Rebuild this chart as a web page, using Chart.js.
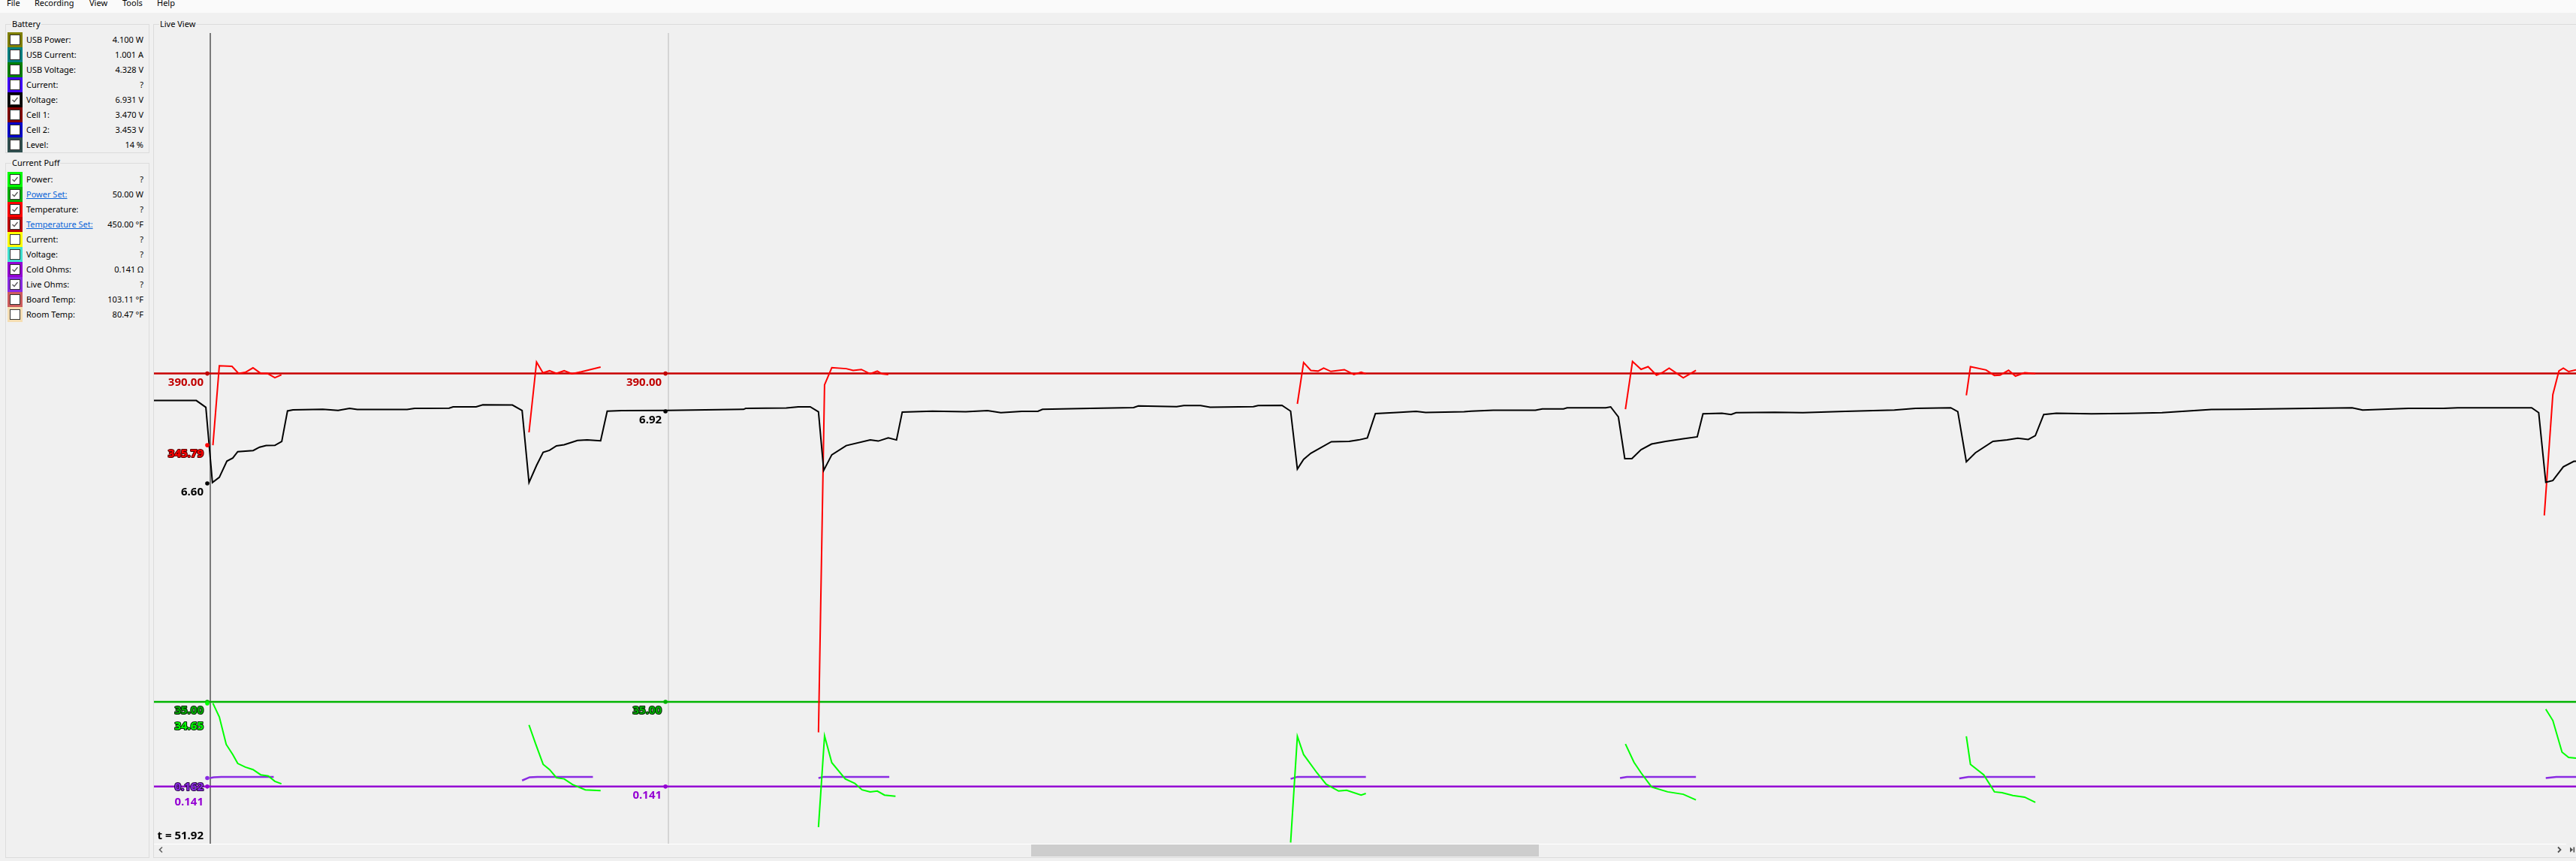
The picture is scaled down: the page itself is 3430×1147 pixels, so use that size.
<!DOCTYPE html>
<html>
<head>
<meta charset="utf-8">
<script src="https://cdn.jsdelivr.net/npm/chart.js"></script>
<style>
html, body { margin: 0; padding: 0; }
body { width: 3430px; height: 1147px; overflow: hidden; background: #f0f0f0; position: relative;
       font-family: "Noto Sans", "Open Sans", sans-serif; font-size: 11px; color: #000; }
#menu { position: absolute; left: 0; top: 0; width: 3430px; height: 17px; background: #fafafa; }
#menu span { position: absolute; top: -5px; line-height: 17px; font-size: 11px; }
.box { position: absolute; border: 1px solid #dcdcdc; box-sizing: border-box; }
.cap { position: absolute; background: #f0f0f0; padding: 0 1px; line-height: 14px; font-size: 11px; }
.row { position: absolute; left: 10px; width: 181px; height: 20px; }
.sw { position: absolute; left: 0; top: 0; width: 20px; height: 20px; }
.cb { position: absolute; left: 3px; top: 3px; width: 12px; height: 12px; border: 1px solid #333; background: #fff; }
.cb svg { position: absolute; left: 0; top: 0; }
.lab { position: absolute; left: 25px; top: 0; line-height: 20px; white-space: nowrap; }
.lab.link { color: #0a64d8; text-decoration: underline; }
.val { position: absolute; right: 0; top: 0; line-height: 20px; white-space: nowrap; }
#plot { position: absolute; left: 205px; top: 44px; width: 3225px; height: 1080px; }
#sbLine { position: absolute; left: 205px; top: 1124px; width: 3212px; height: 1px; background: #fff; }
#thumb { position: absolute; left: 1373px; top: 1125px; width: 676px; height: 16px; background: #cdcdcd; }
.arrow { position: absolute; }
</style>
</head>
<body>
<div id="menu">
  <span style="left:9px">File</span>
  <span style="left:46px">Recording</span>
  <span style="left:119px">View</span>
  <span style="left:163px">Tools</span>
  <span style="left:209px">Help</span>
</div>

<div class="box" style="left:7px;top:32px;width:192px;height:172px"></div>
<div class="cap" style="left:15px;top:25px">Battery</div>
<div class="box" style="left:7px;top:217px;width:192px;height:926px"></div>
<div class="cap" style="left:15px;top:210px">Current Puff</div>
<div class="box" style="left:204px;top:32px;width:3300px;height:1111px"></div>
<div class="cap" style="left:212px;top:25px">Live View</div>
<div id="rows"></div>

<div id="plot"><canvas id="liveChart"></canvas></div>

<div id="sbLine"></div>
<div id="thumb"></div>
<svg class="arrow" style="left:210px;top:1127px" width="10" height="10"><polyline points="6,1.5 2.5,5 6,8.5" fill="none" stroke="#606060" stroke-width="1.6"/></svg>
<svg class="arrow" style="left:3403px;top:1127px" width="10" height="10"><polyline points="3,1.5 6.5,5 3,8.5" fill="none" stroke="#505050" stroke-width="1.8"/></svg>
<svg class="arrow" style="left:3421px;top:1127px" width="9" height="10"><polygon points="1,1.5 5,5 1,8.5" fill="#505050"/><rect x="5.5" y="1.5" width="1.6" height="7" fill="#505050"/></svg>

<script>
// ---- side panel ----
const batteryNames = ["USB Power:", "USB Current:", "USB Voltage:", "Current:", "Voltage:", "Cell 1:", "Cell 2:", "Level:"];
const batteryValues = ["4.100 W", "1.001 A", "4.328 V", "?", "6.931 V", "3.470 V", "3.453 V", "14 %"];
const batteryColors = ["#808000", "#008080", "#008000", "#4000ff", "#000000", "#800000", "#0000c8", "#2f4f4f"];
const batteryChecked = [0, 0, 0, 0, 1, 0, 0, 0];

const puffNames = ["Power:", "Power Set:", "Temperature:", "Temperature Set:", "Current:", "Voltage:", "Cold Ohms:", "Live Ohms:", "Board Temp:", "Room Temp:"];
const puffValues = ["?", "50.00 W", "?", "450.00 °F", "?", "?", "0.141 Ω", "?", "103.11 °F", "80.47 °F"];
const puffColors = ["#00ff00", "#00b000", "#ff0000", "#c00000", "#ffff00", "#40e0d0", "#9400d3", "#8a2be2", "#cd5c5c", "#f5deb3"];
const puffChecked = [1, 1, 1, 1, 0, 0, 1, 1, 0, 0];
const puffLinks = [0, 1, 0, 1, 0, 0, 0, 0, 0, 0];

// ---- chart data (time in s) ----
const voltT = [
  48.49, 51.07, 51.65, 52.05, 52.47, 52.93, 53.29, 53.59, 54.53, 54.92,
  55.32, 55.85, 56.27, 56.62, 56.95, 58.77, 59.70, 60.40, 60.87, 63.90,
  64.36, 66.46, 66.70, 68.10, 68.51, 70.31, 70.90, 71.32, 71.78, 72.18,
  72.57, 72.99, 73.46, 74.27, 74.86, 75.68, 76.08, 76.96, 79.71, 84.38,
  84.51, 86.98, 87.71, 88.44, 88.94, 89.26, 89.75, 90.63, 92.09, 92.58,
  93.19, 93.69, 94.04, 95.87, 97.91, 99.23, 100.04, 101.32, 102.29, 102.58,
  105.49, 108.12, 108.41, 110.74, 111.18, 112.20, 112.78, 115.41, 115.70, 117.15,
  117.68, 118.09, 118.47, 118.91, 120.16, 121.24, 121.82, 122.35, 122.84, 124.15,
  125.32, 125.90, 128.24, 128.67, 130.01, 132.58, 133.00, 134.29, 134.51, 136.86,
  137.16, 137.63, 138.02, 138.45, 139.01, 139.65, 140.51, 141.58, 142.43, 142.78,
  143.93, 144.49, 144.79, 147.15, 148.86, 151.44, 154.43, 155.72, 157.86, 158.29,
  158.81, 159.36, 160.43, 161.29, 161.94, 162.58, 163.01, 163.52, 164.29, 166.43,
  168.58, 170.72, 173.72, 175.44, 182.29, 182.93, 185.72, 187.86, 188.72, 193.22,
  193.65, 194.08, 194.51, 195.15, 195.79, 195.92
];
const voltV = [
  6.968, 6.968, 6.938, 6.604, 6.627, 6.699, 6.713, 6.741, 6.746, 6.761,
  6.768, 6.769, 6.786, 6.922, 6.927, 6.929, 6.924, 6.933, 6.928, 6.928,
  6.933, 6.934, 6.940, 6.940, 6.949, 6.948, 6.924, 6.604, 6.680, 6.738,
  6.747, 6.767, 6.772, 6.791, 6.793, 6.789, 6.921, 6.923, 6.924, 6.929,
  6.933, 6.935, 6.940, 6.940, 6.918, 6.658, 6.727, 6.768, 6.793, 6.788,
  6.802, 6.793, 6.917, 6.921, 6.918, 6.923, 6.914, 6.920, 6.920, 6.929,
  6.933, 6.937, 6.944, 6.941, 6.946, 6.946, 6.938, 6.941, 6.946, 6.947,
  6.921, 6.664, 6.707, 6.734, 6.785, 6.787, 6.793, 6.802, 6.910, 6.915,
  6.920, 6.915, 6.918, 6.921, 6.925, 6.925, 6.931, 6.931, 6.936, 6.936,
  6.940, 6.895, 6.710, 6.710, 6.750, 6.775, 6.787, 6.798, 6.807, 6.909,
  6.912, 6.906, 6.914, 6.916, 6.914, 6.920, 6.926, 6.933, 6.936, 6.919,
  6.696, 6.736, 6.787, 6.793, 6.801, 6.795, 6.812, 6.906, 6.912, 6.909,
  6.911, 6.914, 6.928, 6.929, 6.936, 6.926, 6.933, 6.933, 6.936, 6.936,
  6.914, 6.605, 6.613, 6.674, 6.698, 6.698
];

// null = gap between puffs
const tempT = [
  52.08, 52.47, 53.24, 53.64, 54.05, 54.52, 54.99, 55.39, 55.85, 56.25, 63,
  71.32, 71.78, 72.17, 72.57, 72.99, 73.46, 73.93, 74.51, 75.68, 82,
  88.94, 89.31, 89.75, 90.63, 91.05, 91.55, 92.09, 92.52, 92.81, 93.19, 105,
  118.09, 118.47, 118.91, 119.35, 119.69, 120.13, 120.95, 121.53, 121.97, 122.26, 130,
  138.06, 138.49, 139.01, 139.44, 139.95, 140.29, 140.72, 141.58, 142.35, 150,
  158.81, 159.06, 160.01, 160.52, 160.86, 161.38, 161.80, 162.36, 163.01, 180,
  193.99, 194.51, 194.88, 195.15, 195.47, 195.92
];
const tempV = [
  345.79, 394.8, 394.4, 390.1, 390.7, 393.5, 390.1, 390.1, 387.4, 389.2, null,
  353.7, 397.1, 390.4, 391.7, 390.1, 391.7, 389.8, 391.1, 394.0, null,
  168.7, 383.0, 393.6, 393.0, 391.9, 392.5, 389.8, 391.5, 389.8, 389.4, null,
  371.3, 396.8, 391.9, 391.5, 393.4, 391.3, 392.4, 389.4, 390.8, 389.8, null,
  368.0, 397.4, 392.6, 394.2, 389.0, 390.5, 393.3, 387.3, 392.0, null,
  376.6, 394.2, 392.2, 388.8, 389.0, 392.0, 388.4, 390.5, 389.9, null,
  302.5, 377.0, 391.6, 393.3, 391.2, 392.2
];

const powerT = [
  52.08, 52.47, 52.89, 53.29, 53.59, 54.05, 54.52, 54.99, 55.45, 55.85, 56.25, 63,
  71.32, 71.71, 72.18, 72.57, 72.99, 73.46, 73.97, 74.75, 75.68, 82,
  88.94, 89.31, 89.75, 90.57, 91.15, 91.59, 92.09, 92.52, 92.96, 93.63, 105,
  117.68, 118.09, 118.47, 119.28, 119.84, 120.60, 121.09, 121.97, 122.26, 130,
  138.06, 138.58, 139.01, 139.65, 140.63, 141.58, 142.35, 150,
  158.81, 159.06, 159.87, 160.52, 160.99, 161.64, 162.36, 163.01, 180,
  194.08, 194.51, 195.07, 195.47, 195.92
];
const powerV = [
  34.65, 31.3, 24.5, 22.0, 19.8, 18.9, 18.3, 17.0, 16.7, 15.4, 14.8, null,
  29.3, 24.8, 19.6, 18.3, 16.3, 16.0, 14.6, 13.3, 13.1, null,
  4.1, 26.6, 20.0, 16.0, 14.9, 13.3, 12.8, 13.0, 12.0, 11.7, null,
  0.3, 26.5, 22.0, 17.5, 14.7, 13.0, 13.2, 12.0, 12.4, null,
  24.6, 20.1, 17.5, 14.0, 12.8, 12.2, 10.8, null,
  26.5, 19.6, 17.0, 12.8, 12.6, 11.9, 11.5, 10.2, null,
  33.2, 30.4, 22.6, 21.3, 21.1
];

const liveOhmsT = [
  51.90, 52.12, 52.59, 55.78, 63,
  70.90, 71.36, 71.83, 75.21, 82,
  88.94, 89.27, 93.25, 105,
  117.68, 118.09, 122.26, 130,
  137.73, 138.15, 142.35, 150,
  158.38, 158.93, 163.01, 180,
  194.08, 194.72, 195.92
];
const liveOhmsV = [
  0.162, 0.164, 0.165, 0.165, null,
  0.156, 0.164, 0.165, 0.165, null,
  0.162, 0.165, 0.165, null,
  0.160, 0.165, 0.165, null,
  0.162, 0.165, 0.165, null,
  0.161, 0.165, 0.165, null,
  0.162, 0.165, 0.165
];

const setT = [48.49, 195.92];
const tempSetV = [390, 390];
const powerSetV = [35, 35];
const coldOhmsV = [0.141, 0.141];

// cursor readouts
const cursorTimes = [51.92, 79.81];
const cursorTempSet = [390.00, 390.00];
const cursorTemp = [345.79, null];
const cursorVolt = [6.60, 6.92];
const cursorPowerSet = [35.00, 35.00];
const cursorPower = [34.65, null];
const cursorLiveOhms = [0.162, null];
const cursorColdOhms = [0.141, 0.141];

// ---- build side panel ----
const rowsEl = document.getElementById("rows");
const checkSvg = '<svg width="12" height="12"><polyline points="2.5,6 5,8.5 9.5,3" fill="none" stroke="#555" stroke-width="1.3"/></svg>';

function addRows(names, values, colors, checked, links, top) {
    names.forEach((name, i) => {
        const row = document.createElement("div");
        row.className = "row";
        row.style.top = (top + i * 20) + "px";
        row.innerHTML =
            '<div class="sw" style="background:' + colors[i] + '"><div class="cb">' + (checked[i] ? checkSvg : "") + '</div></div>' +
            '<div class="lab' + (links && links[i] ? ' link' : '') + '">' + name + '</div>' +
            '<div class="val">' + values[i] + '</div>';
        rowsEl.appendChild(row);
    });
}
addRows(batteryNames, batteryValues, batteryColors, batteryChecked, null, 43);
addRows(puffNames, puffValues, puffColors, puffChecked, puffLinks, 229);

// ---- chart ----
function series(ts, vs) {
    return ts.map((t, i) => ({ x: t, y: vs[i] }));
}

function drawLabel(ctx, text, x, y, fill, outline) {
    if (outline) {
        ctx.lineWidth = 2.2;
        ctx.lineJoin = "round";
        ctx.strokeStyle = outline;
        ctx.strokeText(text, x, y);
    }
    ctx.fillStyle = fill;
    ctx.fillText(text, x, y);
}

const cursorPlugin = {
    id: "cursors",
    beforeDatasetsDraw(chart) {
        const { ctx, chartArea, scales } = chart;
        cursorTimes.forEach((t, i) => {
            const x = Math.round(scales.x.getPixelForValue(t));
            ctx.save();
            ctx.strokeStyle = i === 0 ? "#7a7a7a" : "#d4d4d4";
            ctx.lineWidth = 2;
            ctx.beginPath();
            ctx.moveTo(x, chartArea.top);
            ctx.lineTo(x, chartArea.bottom);
            ctx.stroke();
            ctx.restore();
        });
    },
    afterDatasetsDraw(chart) {
        const { ctx, chartArea, scales } = chart;
        ctx.save();
        ctx.font = "bold 15px 'Open Sans'";
        ctx.textAlign = "right";
        ctx.textBaseline = "middle";
        cursorTimes.forEach((t, i) => {
            const x = scales.x.getPixelForValue(t);
            const items = [
                { axis: "yTemp", v: cursorTempSet[i], d: 2, dot: "#c00000", fill: "#c00000", outline: null },
                { axis: "yTemp", v: cursorTemp[i], d: 2, dot: "#ff0000", fill: "#ff0000", outline: "#5a0000" },
                { axis: "yVolt", v: cursorVolt[i], d: 2, dot: "#000000", fill: "#000000", outline: null },
                { axis: "yPow", v: cursorPowerSet[i], d: 2, dot: "#00b000", fill: "#00b000", outline: "#062a06" },
                { axis: "yPow", v: cursorPower[i], d: 2, dot: "#00ff00", fill: "#00ff00", outline: "#062a06" },
                { axis: "yOhm", v: cursorLiveOhms[i], d: 3, dot: "#8a2be2", fill: "#8a2be2", outline: "#2a0a45" },
                { axis: "yOhm", v: cursorColdOhms[i], d: 3, dot: "#9400d3", fill: "#9400d3", outline: null }
            ].filter(it => it.v !== null);
            items.forEach(it => { it.y = scales[it.axis].getPixelForValue(it.v); });
            items.forEach(it => {
                ctx.fillStyle = it.dot;
                ctx.beginPath();
                ctx.arc(x - 4, it.y, 2.8, 0, Math.PI * 2);
                ctx.fill();
            });
            items.sort((a, b) => a.y - b.y);
            let prev = -Infinity;
            items.forEach(it => {
                const ly = Math.max(it.y + 12, prev + 20.5);
                prev = ly;
                drawLabel(ctx, it.v.toFixed(it.d), x - 9, ly, it.fill, it.outline);
            });
            if (i === 0) {
                drawLabel(ctx, "t = " + t.toFixed(2), x - 9, chartArea.bottom - 10, "#000000", null);
            }
        });
        ctx.restore();
    }
};

const lineStyle = { pointRadius: 0, tension: 0, spanGaps: false, fill: false };

new Chart(document.getElementById("liveChart"), {
    type: "line",
    data: {
        datasets: [
            { label: "Voltage", data: series(voltT, voltV), yAxisID: "yVolt", borderColor: "#000000", borderWidth: 2, ...lineStyle },
            { label: "Temperature", data: series(tempT, tempV), yAxisID: "yTemp", borderColor: "#ff0000", borderWidth: 2, ...lineStyle },
            { label: "Power", data: series(powerT, powerV), yAxisID: "yPow", borderColor: "#00ff00", borderWidth: 2, ...lineStyle },
            { label: "Live Ohms", data: series(liveOhmsT, liveOhmsV), yAxisID: "yOhm", borderColor: "#8a2be2", borderWidth: 2.5, ...lineStyle },
            { label: "Temperature Set", data: series(setT, tempSetV), yAxisID: "yTemp", borderColor: "#c80000", borderWidth: 2.5, ...lineStyle },
            { label: "Power Set", data: series(setT, powerSetV), yAxisID: "yPow", borderColor: "#00b400", borderWidth: 2.5, ...lineStyle },
            { label: "Cold Ohms", data: series(setT, coldOhmsV), yAxisID: "yOhm", borderColor: "#9400d3", borderWidth: 2.5, ...lineStyle }
        ]
    },
    options: {
        animation: false,
        responsive: true,
        maintainAspectRatio: false,
        devicePixelRatio: 1,
        layout: { padding: 0 },
        scales: {
            x: { type: "linear", min: 48.4914, max: 195.92, display: false },
            yTemp: { type: "linear", min: 100, max: 600, display: false },
            yVolt: { type: "linear", min: 5.0, max: 8.6, display: false },
            yPow: { type: "linear", min: 0, max: 200, display: false },
            yOhm: { type: "linear", min: 0, max: 2, display: false }
        },
        plugins: { legend: { display: false }, tooltip: { enabled: false } }
    },
    plugins: [cursorPlugin]
});
</script>
</body>
</html>
